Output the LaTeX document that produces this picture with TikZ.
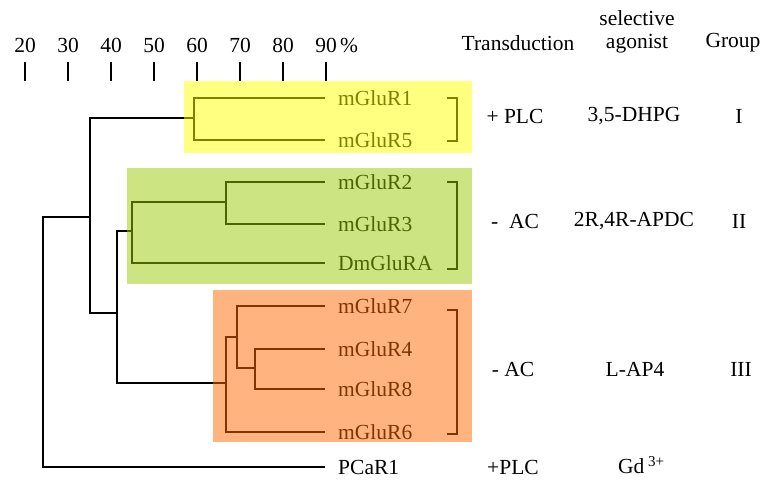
\documentclass[tikz,border=0pt]{standalone}
\usepackage{fontspec}
\setmainfont{Liberation Serif}
\definecolor{grpone}{RGB}{255,255,1}
\definecolor{grptwo}{RGB}{153,201,5}
\definecolor{grpthree}{RGB}{255,105,1}
\begin{document}
\begin{tikzpicture}[x=1pt,y=-1pt,
  every node/.style={font=\fontsize{21.5}{23}\selectfont, inner sep=0pt},
  leaf/.style={anchor=west, inner xsep=13pt},
  branch/.style={line width=1.7pt},
  tick/.style={line width=1.8pt},
  bracket/.style={line width=1.7pt},
  shade/.style={fill opacity=0.5}]
\useasboundingbox (0,0) rectangle (762,481);

% percentage scale
\foreach \p/\x in {20/25,30/68,40/111,50/154,60/197,70/240,80/283} {
  \node (s\p) at (\x,45) {\p};
  \draw[tick] (\x,62) -- (\x,81);
}
\node (s90) at (326,45) {90};
\draw[tick] (326,62) -- (326,81);
\node[anchor=west] (pct) at (340,45) {\%};

% column headers
\node (htrans) at (518,43) {Transduction};
\node[align=center] (hagon) at (637,32) {selective\\agonist};
\node (hgroup) at (733,43) {Group};

% leaves
\node[leaf] (r1) at (325,98) {mGluR1};
\node[leaf] (r5) at (325,140) {mGluR5};
\node[leaf] (r2) at (325,182) {mGluR2};
\node[leaf] (r3) at (325,224) {mGluR3};
\node[leaf] (dm) at (325,263) {DmGluRA};
\node[leaf] (r7) at (325,306) {mGluR7};
\node[leaf] (r4) at (325,349) {mGluR4};
\node[leaf] (r8) at (325,389) {mGluR8};
\node[leaf] (r6) at (325,432) {mGluR6};
\node[leaf] (pc) at (325,467) {PCaR1};

% internal nodes
\coordinate (root) at (43,345);
\coordinate (na) at (90,217);
\coordinate (ny) at (194,118);
\coordinate (nb) at (117,313);
\coordinate (ng) at (132,231);
\coordinate (ng2) at (226,202);
\coordinate (no) at (226,383);
\coordinate (no2) at (237,337);
\coordinate (no3) at (255,368);

% branches
\draw[branch] (root) |- (na);
\draw[branch] (root) |- (pc.west);
\draw[branch] (na) |- (ny);
\draw[branch] (na) |- (nb);
\draw[branch] (ny) |- (r1.west);
\draw[branch] (ny) |- (r5.west);
\draw[branch] (nb) |- (ng);
\draw[branch] (nb) |- (no);
\draw[branch] (ng) |- (ng2);
\draw[branch] (ng) |- (dm.west);
\draw[branch] (ng2) |- (r2.west);
\draw[branch] (ng2) |- (r3.west);
\draw[branch] (no) |- (no2);
\draw[branch] (no) |- (r6.west);
\draw[branch] (no2) |- (r7.west);
\draw[branch] (no2) |- (no3);
\draw[branch] (no3) |- (r4.west);
\draw[branch] (no3) |- (r8.west);

% group brackets
\draw[bracket] (447,98) -- (457,98) -- (457,141) -- (447,141);
\draw[bracket] (447,182) -- (457,182) -- (457,269) -- (447,269);
\draw[bracket] (447,310) -- (457,310) -- (457,434) -- (447,434);

% table rows
\node (t1) at (515,116) {+ PLC};
\node (a1) at (634,116) {3,5-DHPG};
\node (g1) at (739,116) {I};
\node (t2) at (515,221) {-\ \ AC};
\node (a2) at (634,221) {2R,4R-APDC};
\node (g2) at (739,221) {II};
\node (t3) at (513,369) {- AC};
\node (a3) at (635,369) {L-AP4};
\node (g3) at (741,369) {III};
\node (t4) at (513,467) {+PLC};
\node[anchor=west] (a4) at (618,465) {Gd\,\textsuperscript{3+}};

% translucent group highlights
\fill[grpone,shade] (184,81) rectangle (472,153);
\fill[grptwo,shade] (127,168) rectangle (472,284);
\fill[grpthree,shade] (213,290) rectangle (472,442);
\end{tikzpicture}
\end{document}
